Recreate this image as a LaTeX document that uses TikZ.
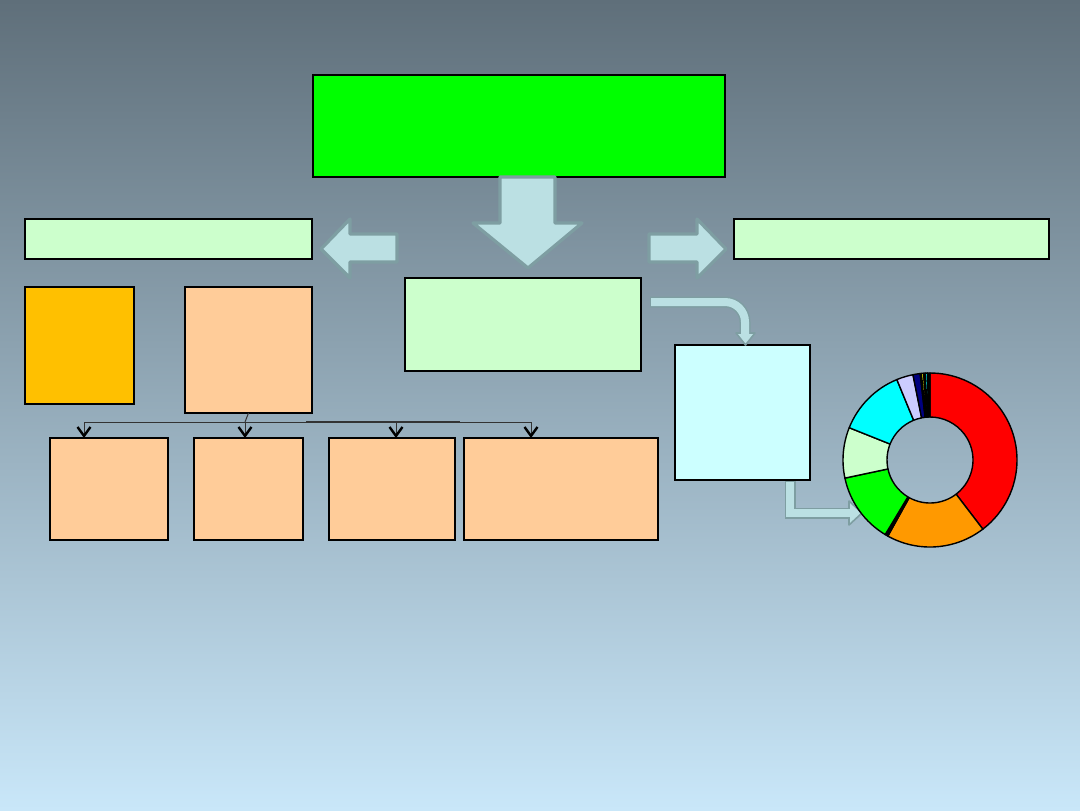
\documentclass[tikz,border=0pt]{standalone}
\usetikzlibrary{fit,arrows.meta}
\definecolor{bgtop}{HTML}{5F6F7A}
\definecolor{bgbot}{HTML}{C9E7F9}
\definecolor{hgreen}{HTML}{00FF00}
\definecolor{lgreen}{HTML}{CCFFCC}
\definecolor{gold}{HTML}{FFC000}
\definecolor{peach}{HTML}{FFCC99}
\definecolor{lcyan}{HTML}{CCFFFF}
\definecolor{afill}{HTML}{BBE0E3}
\definecolor{aedge}{HTML}{7E9EA2}
\definecolor{navyc}{HTML}{000080}
\definecolor{lav}{HTML}{CCCCFF}
\definecolor{orng}{HTML}{FF9900}
\definecolor{pcyan}{HTML}{00FFFF}
\definecolor{pyellow}{HTML}{FFFF00}
\definecolor{pred}{HTML}{FF0000}
\newcommand\donutslice[3]{\filldraw[slice, fill=#3] (#1:87) arc[start angle=#1, end angle=#2, radius=87] -- (#2:43) arc[start angle=#2, end angle=#1, radius=43] -- cycle;}
\begin{document}
\begin{tikzpicture}[x=0.5pt,y=-0.5pt,
 box/.style={draw=black, line width=0.8pt, inner sep=0pt, outer sep=0pt},
 blockarrow/.style={fill=afill, draw=aedge, line width=1.6pt, line join=round},
 tree/.style={draw=black!80, line width=0.5pt},
 drop/.style={tree, -{Straight Barb[length=4.5pt,width=6.5pt,line width=1.2pt,color=black]}},
 slice/.style={draw=black, line width=0.7pt, line join=round}]
\useasboundingbox (0,0) rectangle (1080,810);
\shade[top color=bgtop, bottom color=bgbot] (0,0) rectangle (1080,810);

% boxes
\node[box, fill=hgreen, fit={(313,75)(725,177)}] (top) {};
\node[box, fill=lgreen, fit={(25,219)(312,259)}] (lbar) {};
\node[box, fill=lgreen, fit={(734,219)(1049,259)}] (rbar) {};
\node[box, fill=gold, fit={(25,287)(134,404)}] (gold) {};
\node[box, fill=peach, fit={(185,287)(312,413)}] (p2) {};
\node[box, fill=lgreen, fit={(405,278)(641,371)}] (mid) {};
\node[box, fill=lcyan, fit={(675,345)(810,480)}] (cy) {};
\node[box, fill=peach, fit={(50,438)(168,540)}] (b1) {};
\node[box, fill=peach, fit={(194,438)(303,540)}] (b2) {};
\node[box, fill=peach, fit={(329,438)(455,540)}] (b3) {};
\node[box, fill=peach, fit={(464,438)(658,540)}] (b4) {};

% block arrows
\draw[blockarrow] (500,177) -- (555,177) -- (555,223) -- (582,223) -- (528,268) -- (473,223) -- (500,223) -- cycle;
\draw[blockarrow] (397,234) -- (350,234) -- (350,219) -- (321,249) -- (350,278) -- (350,262) -- (397,262) -- cycle;
\draw[blockarrow] (649,234) -- (697,234) -- (697,219) -- (726,249) -- (697,278) -- (697,262) -- (649,262) -- cycle;

% bent arrow mid -> cyan box
\coordinate (c1s) at (650,302);
\coordinate (c1c) at (745,302);
\coordinate (c1e) at (745,334);
\draw[aedge, line width=5.5pt, rounded corners=10pt] (c1s) -- (c1c) -- (c1e);
\draw[blockarrow, line width=0.8pt] (736,333) -- (755,333) -- (745.5,345) -- cycle;
\draw[afill, line width=4pt, rounded corners=10pt] ([xshift=0.6pt]c1s) -- (c1c) -- ([yshift=-1pt]c1e);

% bent arrow cyan box -> donut
\coordinate (c2s) at (790,481);
\coordinate (c2c) at (790,513);
\coordinate (c2e) at (850,513);
\draw[aedge, line width=5.5pt] (c2s) -- (c2c) -- (c2e);
\draw[blockarrow, line width=0.8pt] (849,501) -- (862,513) -- (849,525) -- cycle;
\draw[afill, line width=4pt] ([yshift=-0.5pt]c2s) -- (c2c) -- ([xshift=1pt]c2e);

% tree connectors
\coordinate (j) at (245,422);
\coordinate (hl) at (84,422);
\coordinate (hr) at (531,422);
\draw[tree] (p2.south) -- (j);
\draw[tree] (hl) -- (hr);
\draw[draw=black!80, line width=0.9pt] (306,422) -- (460,422);
\coordinate (t1) at (84,422);
\coordinate (t2) at (245,422);
\coordinate (t3) at (396,422);
\coordinate (t4) at (531,422);
\draw[drop] (t1) -- (t1 |- b1.north);
\draw[drop] (t2) -- (t2 |- b2.north);
\draw[drop] (t3) -- (t3 |- b3.north);
\draw[drop] (t4) -- (t4 |- b4.north);

% donut chart
\begin{scope}[shift={(930,460)}, yscale=-1]
\donutslice{90}{-52.6}{pred}
\donutslice{-52.6}{-119}{orng}
\donutslice{-119}{-121}{black}
\donutslice{-121}{-168}{hgreen}
\donutslice{-168}{-201.8}{lgreen}
\donutslice{-201.8}{-247.6}{pcyan}
\donutslice{-247.6}{-258.7}{lav}
\donutslice{-258.7}{-263.5}{navyc}
\donutslice{-263.5}{-264.3}{black}
\donutslice{-264.3}{-265.8}{pyellow}
\donutslice{-265.8}{-266.8}{black}
\donutslice{-266.8}{-268.3}{pcyan}
\donutslice{-268.3}{-270}{black}
\end{scope}
\end{tikzpicture}
\end{document}
